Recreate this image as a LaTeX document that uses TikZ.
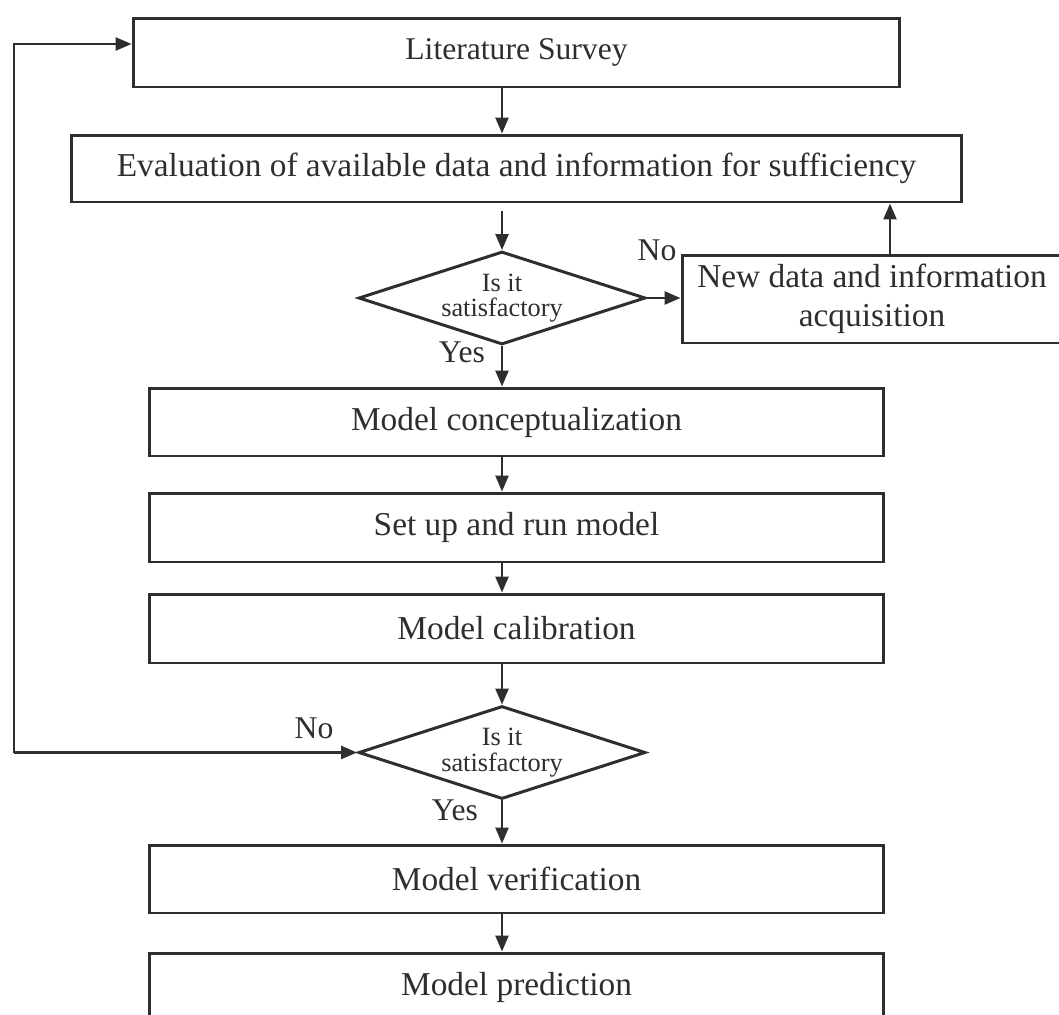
\documentclass[tikz,border=0pt]{standalone}
\usepackage{fontspec}
\setmainfont{Liberation Serif}
\usepackage{tikz}
\usetikzlibrary{shapes.geometric, arrows.meta}
\definecolor{ink}{HTML}{2E2E2E}

\begin{document}
\begin{tikzpicture}[x=0.02cm, y=-0.02cm, color=ink, line width=1.7pt,
  box/.style={draw, rectangle, minimum height=1.36cm, inner sep=0pt, font=\fontsize{19}{22}\selectfont},
  decide/.style={draw, diamond, shape aspect=3.1, minimum width=5.74cm, minimum height=1.86cm, inner sep=0pt, align=center, font=\fontsize{15}{14.5}\selectfont},
  arr/.style={-{Triangle[length=0.32cm, width=0.26cm]}, line width=1.4pt},
  lbl/.style={inner sep=0pt, font=\fontsize{18}{20}\selectfont}]

  \clip (0,0) rectangle (1059,1015);

  % Boxes
  \node[box, minimum width=15.34cm, minimum height=1.38cm, font=\fontsize{18}{21}\selectfont] (lit) at (516.5,52.5) {Literature Survey};
  \node[box, minimum width=17.82cm, minimum height=1.34cm] (eval) at (516.5,168.5) {Evaluation of available data and information for sufficiency};
  \node[decide] (dia1) at (502,298) {Is it\\satisfactory};  % first check
  \node[box, minimum width=7.6cm, minimum height=1.76cm, align=center] (newd) at (872,299) {New data and information\\acquisition};
  \node[box, minimum width=14.7cm] (conc) at (516.5,422) {Model conceptualization};
  \node[box, minimum width=14.7cm, minimum height=1.38cm] (setup) at (516.5,527.5) {Set up and run model};
  \node[box, minimum width=14.7cm, minimum height=1.38cm] (calib) at (516.5,628.5) {Model calibration};
  \node[decide] (dia2) at (502,752.5) {Is it\\satisfactory};  % second check
  \node[box, minimum width=14.7cm] (verif) at (516.5,879) {Model verification};
  \node[box, minimum width=14.7cm] (pred) at (516.5,987) {Model prediction};

  % Labels
  \node[lbl] (no1) at (657,250) {No};
  \node[lbl] (yes1) at (462,352) {Yes};
  \node[lbl] (no2) at (314,728) {No};
  \node[lbl] (yes2) at (455,810) {Yes};

  \coordinate (corner) at (14,752.5);  % left end of the loop back

  % Arrows
  \draw[arr] (lit.south -| dia1.north) -- (eval.north -| dia1.north);
  \draw[arr] ([yshift=-0.16cm]eval.south -| dia1.north) -- (dia1.north);
  \draw[arr] (dia1.east) -- (dia1.east -| newd.west);               % no
  \draw[arr] ([xshift=0.36cm]newd.north) -- ([xshift=0.36cm]newd.north |- eval.south);
  \draw[arr] (dia1.south) -- (dia1.south |- conc.north);            % yes
  \draw[arr] (conc.south -| dia1.south) -- (setup.north -| dia1.south);
  \draw[arr] (setup.south -| dia1.south) -- (calib.north -| dia1.south);
  \draw[arr] (calib.south -| dia2.north) -- (dia2.north);
  \draw[arr] (corner) |- ([yshift=0.17cm]lit.west);                 % no, back to start
  \draw[arr] (corner) -- (dia2.west);
  \draw[arr] (dia2.south) -- (dia2.south |- verif.north);           % yes
  \draw[arr] (verif.south -| dia2.south) -- (pred.north -| dia2.south);

\end{tikzpicture}
\end{document}
